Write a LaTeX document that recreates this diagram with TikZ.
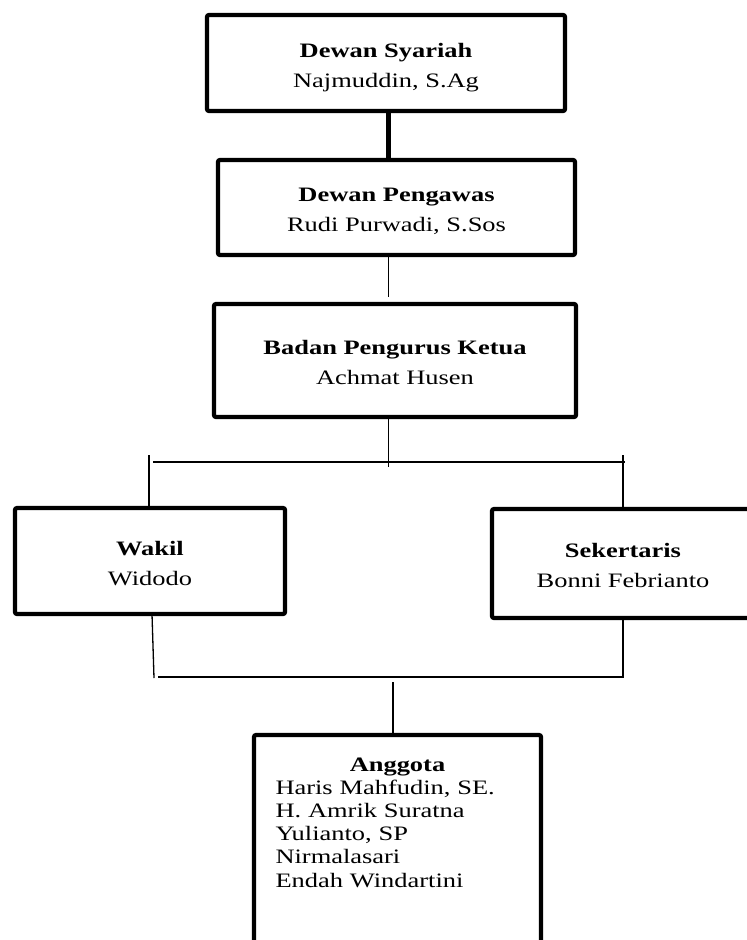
\documentclass[tikz,border=0pt]{standalone}
\usepackage{fontspec}
\setmainfont{Liberation Serif}[FakeStretch=1.29]
\usetikzlibrary{calc}

\tikzset{
  orgbox/.style={draw, line width=4.2pt, rounded corners=2pt, inner sep=0pt,
                 outer sep=0pt, align=center, font=\fontsize{20.5}{30}\selectfont},
  link/.style={line width=1.3pt},
  thicklink/.style={line width=4.2pt},
}
\newcommand{\orgstrut}{\rule[-4.5pt]{0pt}{27pt}}
\newcommand{\orgtext}[2]{\orgstrut\textbf{#1}\\\orgstrut #2}

\begin{document}
\begin{tikzpicture}[x=1pt, y=-1pt]
  \path[use as bounding box, fill=white] (0,0) rectangle (747,940);
  % boxes, top to bottom
  \node[orgbox, minimum width=358pt, minimum height=96pt] (syariah) at (386,63)
      {\orgtext{Dewan Syariah}{Najmuddin, S.Ag}};
  \node[orgbox, minimum width=357pt, minimum height=95pt] (pengawas) at (396.5,207.5)
      {\orgtext{Dewan Pengawas}{Rudi Purwadi, S.Sos}};
  \node[orgbox, minimum width=362pt, minimum height=113pt] (ketua) at (395,360.5)
      {\orgtext{Badan Pengurus Ketua}{Achmat Husen}};
  \node[orgbox, minimum width=270pt, minimum height=106pt] (wakil) at (150,561)
      {\orgtext{Wakil}{Widodo}};
  \node[orgbox, minimum width=262pt, minimum height=109pt] (sekretaris) at (623,563.5)
      {\orgtext{Sekertaris}{Bonni Febrianto}};
  \node[orgbox, anchor=north, text width=244pt, align=left, inner xsep=21.5pt,
        inner ysep=22pt, text height=14pt, text depth=210pt,
        font=\fontsize{20.5}{23.2}\selectfont] (anggota) at (397.5,735)
      {\makebox[\linewidth]{\textbf{Anggota}}\\Haris Mahfudin, SE.\\H. Amrik Suratna\\
       Yulianto, SP\\Nirmalasari\\Endah Windartini};

  % spine and branch points
  \coordinate (spine) at (388.5,0);
  \coordinate (busL) at (153,462);
  \coordinate (busR) at (625,462);
  \coordinate (lowL) at (158,677);
  \coordinate (lowR) at (623,677);

  % connectors
  \draw[thicklink] (syariah.south -| spine) -- (pengawas.north -| spine);
  \draw[link] (pengawas.south -| spine) -- ($(ketua.north -| spine)+(0,-7)$);
  \draw[link] (ketua.south -| spine) -- ++(0,50);
  \draw[link] (busL) -- (busR);
  \draw[link] ([xshift=-1pt]wakil.north) -- ++(0,-53);
  \draw[link] (sekretaris.north) -- ++(0,-54);
  \draw[link] ([xshift=2pt]wakil.south) -- ++(2,64);
  \draw[link] (lowL) -- (lowR) -- (sekretaris.south);
  \draw[link] ([xshift=-4.5pt]anggota.north) -- ++(0,-53);
\end{tikzpicture}
\end{document}
